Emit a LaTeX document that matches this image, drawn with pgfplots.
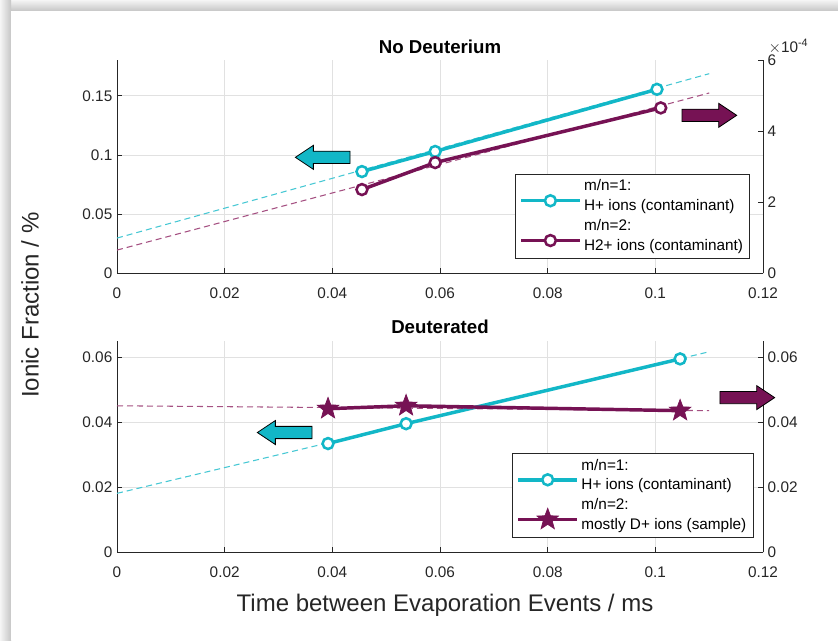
\documentclass[border=0pt]{standalone}
\usepackage{fontspec}
\setmainfont{Liberation Sans}
\usepackage{pgfplots}
\pgfplotsset{compat=1.18}

\definecolor{cyanC}{RGB}{18,183,199}
\definecolor{purpC}{RGB}{118,18,84}
\definecolor{cyanD}{RGB}{70,200,212}
\definecolor{purpD}{RGB}{165,80,130}
\definecolor{gridC}{RGB}{225,225,225}
\definecolor{axC}{RGB}{38,38,38}

% filled five-point star
\pgfdeclareplotmark{fstar}{%
  \pgfpathmoveto{\pgfpointpolar{90}{\pgfplotmarksize}}%
  \pgfpathlineto{\pgfpointpolar{126}{0.42\pgfplotmarksize}}%
  \pgfpathlineto{\pgfpointpolar{162}{\pgfplotmarksize}}%
  \pgfpathlineto{\pgfpointpolar{198}{0.42\pgfplotmarksize}}%
  \pgfpathlineto{\pgfpointpolar{234}{\pgfplotmarksize}}%
  \pgfpathlineto{\pgfpointpolar{270}{0.42\pgfplotmarksize}}%
  \pgfpathlineto{\pgfpointpolar{306}{\pgfplotmarksize}}%
  \pgfpathlineto{\pgfpointpolar{342}{0.42\pgfplotmarksize}}%
  \pgfpathlineto{\pgfpointpolar{18}{\pgfplotmarksize}}%
  \pgfpathlineto{\pgfpointpolar{54}{0.42\pgfplotmarksize}}%
  \pgfpathclose
  \pgfusepathqfillstroke
}

\pgfplotsset{
  base/.style={
    scale only axis, width=484.5pt, anchor=south west,
    xmin=0, xmax=0.12, scaled ticks=false, clip=false,
    tick align=inside, major tick length=4pt,
    tick style={axC, line width=0.5pt},
    axis line style={axC, line width=0.6pt},
    ticklabel style={font=\fontsize{11.5}{13}\selectfont, text=axC},
  },
  leftax/.style={base,
    axis x line*=bottom, axis y line*=left,
    xtick={0,0.02,0.04,0.06,0.08,0.1,0.12},
    xticklabels={0,0.02,0.04,0.06,0.08,0.1,0.12},
    xticklabel style={yshift=-7pt},
    grid=major, major grid style={gridC, line width=0.5pt},
  },
  rightax/.style={base,
    axis y line*=right, axis x line=none,
    legend cell align=left,
    legend style={draw=axC, line width=0.5pt, fill=white,
      font=\fontsize{11.5}{14.5}\selectfont, cells={align=left},
      anchor=south east, inner xsep=3pt, inner ysep=2.5pt, row sep=1.5pt},
    legend image code/.code={\draw[mark repeat=2,mark phase=2,#1,yshift=-3.5pt]
      plot coordinates {(0pt,0pt) (22pt,0pt) (44pt,0pt)};},
  },
  cyanline/.style={cyanC, line width=2.6pt, mark=*, mark size=4.1pt,
    mark options={solid, draw=cyanC, fill=white, line width=1.9pt}},
  purpcirc/.style={purpC, line width=2.6pt, mark=*, mark size=4.1pt,
    mark options={solid, draw=purpC, fill=white, line width=1.9pt}},
  purpstar/.style={purpC, line width=2.6pt, mark=fstar, mark size=8.5pt,
    mark options={solid, draw=purpC, fill=purpC, line width=0.5pt}},
  trend/.style={line width=0.8pt, dash pattern=on 4.5pt off 3pt, forget plot},
}

\begin{document}
\begin{tikzpicture}
\useasboundingbox (0,0) rectangle (628.5pt,480pt);
% page background and panel shadow
\fill[gray!18] (0,0) rectangle (628.5pt,480pt);
\shade[top color=gray!8, bottom color=gray!45] (0,471.75pt) rectangle (628.5pt,480pt);
\shade[left color=gray!8, right color=gray!45] (0,0) rectangle (8.25pt,480pt);
\fill[white] (8.25pt,0) rectangle (628.5pt,471.75pt);

% ---- top: No Deuterium ----
\begin{axis}[leftax, at={(87.75pt,275pt)}, height=159.75pt,
  ymin=0, ymax=0.18, ytick={0,0.05,0.1,0.15}, yticklabels={0,0.05,0.1,0.15}]
  \addplot[trend, cyanD] coordinates {(0,0.0298) (0.11,0.1687)};
  \addplot[cyanline] coordinates {(0.0455,0.0860) (0.0591,0.1030) (0.1003,0.1555)};
  \draw[fill=cyanC, line width=0.6pt] (rel axis cs:0.3607,0.5446) ++(0,4.6pt)
    -- ++(-27.5pt,0) -- ++(0,4.4pt) -- ++(-13.5pt,-9pt) -- ++(13.5pt,-9pt)
    -- ++(0,4.4pt) -- ++(27.5pt,0) -- cycle;
\end{axis}
\begin{axis}[rightax, at={(87.75pt,275pt)}, height=159.75pt,
  ymin=0, ymax=6e-4, ytick={0,2e-4,4e-4,6e-4}, yticklabels={0,2,4,6},
  legend style={at={(rel axis cs:0.98,0.07)}}]
  \addplot[trend, purpD] coordinates {(0,6.55e-5) (0.11,5.08e-4)};
  \addlegendimage{cyanline}
  \addlegendentry{m/n=1:\\H+ ions (contaminant)}
  \addplot[purpcirc] coordinates {(0.0455,2.36e-4) (0.0591,3.12e-4) (0.1010,4.66e-4)};
  \addlegendentry{m/n=2:\\H2+ ions (contaminant)}
  \draw[fill=purpC, line width=0.6pt] (rel axis cs:0.8746,0.7418) ++(0,4.6pt)
    -- ++(27.5pt,0) -- ++(0,4.4pt) -- ++(13.5pt,-9pt) -- ++(-13.5pt,-9pt)
    -- ++(0,4.4pt) -- ++(-27.5pt,0) -- cycle;
  \node[anchor=south west, font=\fontsize{11.5}{13}\selectfont, text=axC, inner sep=0pt]
    at ([xshift=4pt,yshift=5pt]rel axis cs:1,1) {$\times$10\textsuperscript{-4}};
\end{axis}

% ---- bottom: Deuterated ----
\begin{axis}[leftax, at={(87.75pt,65.8pt)}, height=158.7pt,
  ymin=0, ymax=0.065, ytick={0,0.02,0.04,0.06}, yticklabels={0,0.02,0.04,0.06}]
  \addplot[trend, cyanD] coordinates {(0,0.0181) (0.11,0.0616)};
  \addplot[cyanline] coordinates {(0.0392,0.0334) (0.0537,0.0395) (0.1046,0.0594)};
  \draw[fill=cyanC, line width=0.6pt] (rel axis cs:0.3019,0.566) ++(0,4.6pt)
    -- ++(-27.5pt,0) -- ++(0,4.4pt) -- ++(-13.5pt,-9pt) -- ++(13.5pt,-9pt)
    -- ++(0,4.4pt) -- ++(27.5pt,0) -- cycle;
\end{axis}
\begin{axis}[rightax, at={(87.75pt,65.8pt)}, height=158.7pt,
  ymin=0, ymax=0.065, ytick={0,0.02,0.04,0.06}, yticklabels={0,0.02,0.04,0.06},
  legend style={at={(rel axis cs:0.985,0.07)}}]
  \addplot[trend, purpD] coordinates {(0,0.0450) (0.11,0.0435)};
  \addlegendimage{cyanline}
  \addlegendentry{m/n=1:\\H+ ions (contaminant)}
  \addplot[purpstar] coordinates {(0.0392,0.0441) (0.0537,0.0450) (0.1046,0.0435)};
  \addlegendentry{m/n=2:\\mostly D+ ions (sample)}
  \draw[fill=purpC, line width=0.6pt] (rel axis cs:0.9334,0.731) ++(0,4.6pt)
    -- ++(27.5pt,0) -- ++(0,4.4pt) -- ++(13.5pt,-9pt) -- ++(-13.5pt,-9pt)
    -- ++(0,4.4pt) -- ++(-27.5pt,0) -- cycle;
\end{axis}

% titles and shared labels
\node[font=\fontsize{14}{16}\bfseries\selectfont, text=black] at (330pt,444.75pt) {No Deuterium};
\node[font=\fontsize{14}{16}\bfseries\selectfont, text=black] at (330pt,234.75pt) {Deuterated};
\node[rotate=90, font=\fontsize{18}{20}\selectfont, text=axC] at (22.5pt,251.25pt) {Ionic Fraction / \%};
\node[font=\fontsize{18}{20}\selectfont, text=axC] at (333.75pt,26.25pt) {Time between Evaporation Events / ms};
\end{tikzpicture}
\end{document}
